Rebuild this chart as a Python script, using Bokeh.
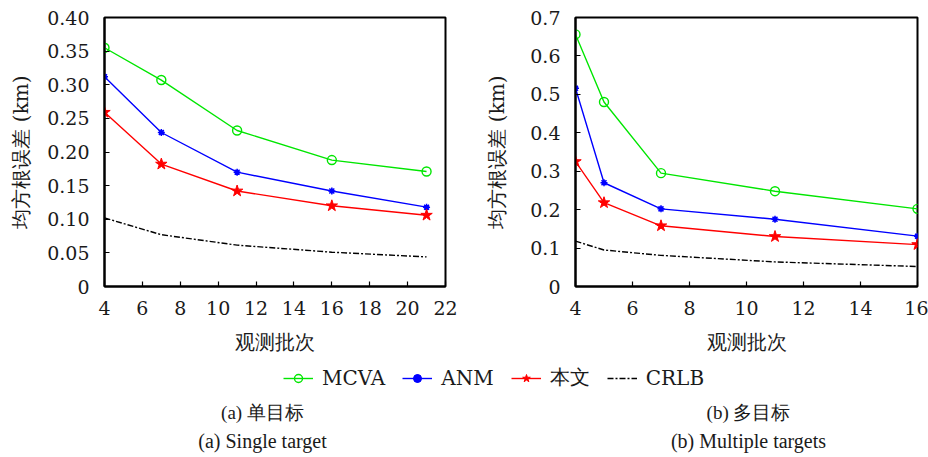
from bokeh.plotting import figure
from bokeh.layouts import column, row
from bokeh.models import FixedTicker, Range1d, Legend, LegendItem
from bokeh.core.properties import value
from bokeh.embed import file_html
from bokeh.resources import INLINE

# ---------------- data ----------------
x_single = [4, 7, 11, 16, 21]
mcva_single = [0.355, 0.307, 0.232, 0.188, 0.171]
anm_single = [0.312, 0.229, 0.170, 0.142, 0.118]
ours_single = [0.259, 0.182, 0.142, 0.120, 0.106]
crlb_single = [0.102, 0.077, 0.0615, 0.051, 0.044]

x_multi = [4, 5, 7, 11, 16]
mcva_multi = [0.656, 0.480, 0.295, 0.248, 0.202]
anm_multi = [0.516, 0.270, 0.202, 0.175, 0.131]
ours_multi = [0.325, 0.218, 0.158, 0.130, 0.109]
crlb_multi = [0.118, 0.095, 0.081, 0.064, 0.052]

xticks_single = [4, 6, 8, 10, 12, 14, 16, 18, 20, 22]
yticks_single = [0, 0.05, 0.10, 0.15, 0.20, 0.25, 0.30, 0.35, 0.40]
ylabels_single = ["0", "0.05", "0.10", "0.15", "0.20", "0.25", "0.30", "0.35", "0.40"]
xticks_multi = [4, 6, 8, 10, 12, 14, 16]
yticks_multi = [0, 0.1, 0.2, 0.3, 0.4, 0.5, 0.6, 0.7]
ylabels_multi = ["0", "0.1", "0.2", "0.3", "0.4", "0.5", "0.6", "0.7"]

series_names = ["MCVA", "ANM", "本文", "CRLB"]
y_title = "均方根误差 (km)"
x_title = "观测批次"
captions_cn = ["(a) 单目标", "(b) 多目标"]
captions_en = ["(a) Single target", "(b) Multiple targets"]

FONT = "DejaVu Serif"
CAP_FONT = "Liberation Serif"
GREEN = "#00e600"
BLUE = "#0000ff"
RED = "#ff0000"
TXT = "#1a1a1a"


def draw_series(p, x, mcva, anm, ours, crlb, **kw):
    r = {}
    r["m1"] = p.line(x, mcva, line_color=GREEN, line_width=1.4, **kw)
    r["m2"] = p.scatter(x, mcva, marker="circle", size=9, fill_color=None,
                        line_color=GREEN, line_width=1.4, **kw)
    r["a1"] = p.line(x, anm, line_color=BLUE, line_width=1.4, **kw)
    r["a2"] = p.scatter(x, anm, marker="circle", size=4, fill_color=BLUE, line_color=BLUE, **kw)
    r["a3"] = p.scatter(x, anm, marker="asterisk", size=7, line_color=BLUE, line_width=1.5, **kw)
    r["o1"] = p.line(x, ours, line_color=RED, line_width=1.4, **kw)
    r["o2"] = p.scatter(x, ours, marker="star", size=12, fill_color=RED, line_color=RED, **kw)
    r["c1"] = p.line(x, crlb, line_color="black", line_width=1.4, line_dash="6 2 2 2", **kw)
    return r


def style_axis(ax):
    ax.major_tick_in = 5
    ax.major_tick_out = 0
    ax.minor_tick_in = 0
    ax.minor_tick_out = 0
    ax.axis_line_color = "black"
    ax.axis_line_width = 2
    ax.major_tick_line_width = 1.2
    ax.major_label_text_font = FONT
    ax.major_label_text_font_size = "19px"
    ax.major_label_text_color = TXT
    ax.axis_label_text_font = FONT
    ax.axis_label_text_font_size = "20px"
    ax.axis_label_text_font_style = "normal"
    ax.axis_label_text_color = TXT


def make_fig(x_rng, y_rng, xt, yt, ylab, border_left, border_right, label_standoff):
    p = figure(width=464, height=360, output_backend="svg", toolbar_location=None,
               x_range=Range1d(*x_rng), y_range=Range1d(*y_rng),
               min_border_left=border_left, min_border_right=border_right,
               min_border_top=17, min_border_bottom=74)
    p.grid.visible = False
    p.outline_line_color = "black"
    p.outline_line_width = 2
    p.background_fill_color = "white"
    p.border_fill_color = "white"
    p.xaxis.ticker = FixedTicker(ticks=xt)
    p.yaxis.ticker = FixedTicker(ticks=yt)
    p.yaxis.major_label_overrides = {t: l for t, l in zip(yt, ylab)}
    style_axis(p.xaxis[0])
    style_axis(p.yaxis[0])
    p.xaxis.major_label_standoff = 14
    p.yaxis.major_label_standoff = 15
    p.xaxis.axis_label = x_title
    p.yaxis.axis_label = y_title
    p.xaxis.axis_label_standoff = 12
    p.yaxis.axis_label_standoff = label_standoff
    return p


p1 = make_fig((4, 22), (0, 0.40), xticks_single, yticks_single, ylabels_single, 104, 19, 11)
draw_series(p1, x_single, mcva_single, anm_single, ours_single, crlb_single)

p2 = make_fig((4, 16), (0, 0.70), xticks_multi, yticks_multi, ylabels_multi, 111, 11, 18)
draw_series(p2, x_multi, mcva_multi, anm_multi, ours_multi, crlb_multi)

# ---------------- legend + captions ----------------
p3 = figure(width=928, height=97, output_backend="svg", toolbar_location=None,
            x_range=Range1d(0, 928), y_range=Range1d(97, 0),
            min_border=0, x_axis_location=None, y_axis_location=None)
p3.grid.visible = False
p3.outline_line_color = None
# legend proxies: same series, drawn on a hidden range (off-screen)
p3.extra_x_ranges = {"hidden": Range1d(1000, 1001)}
pr = draw_series(p3, x_single, mcva_single, anm_single, ours_single, crlb_single,
                 x_range_name="hidden")

legend = Legend(items=[
    LegendItem(label=series_names[0], renderers=[pr["m1"], pr["m2"]]),
    LegendItem(label=series_names[1], renderers=[pr["a1"], pr["a2"], pr["a3"]]),
    LegendItem(label=series_names[2], renderers=[pr["o1"], pr["o2"]]),
    LegendItem(label=series_names[3], renderers=[pr["c1"]]),
], orientation="horizontal", location=(283, 66))
legend.border_line_color = None
legend.background_fill_alpha = 0
legend.label_text_font = FONT
legend.label_text_font_size = "20px"
legend.label_text_color = TXT
legend.glyph_width = 30
legend.spacing = 17
legend.margin = 0
legend.padding = 4
legend.label_standoff = 9
p3.add_layout(legend, "center")

cap_x = [262, 748]
p3.text(x=cap_x, y=[52, 52], text=captions_cn, text_align="center", text_baseline="middle",
        text_font=value(CAP_FONT), text_font_size="19px", text_color=TXT)
p3.text(x=cap_x, y=[80, 80], text=captions_en, text_align="center", text_baseline="middle",
        text_font=value(CAP_FONT), text_font_size="20px", text_color=TXT)

layout = column(row(p1, p2), p3)
open("out.html", "w").write(file_html(layout, INLINE))
